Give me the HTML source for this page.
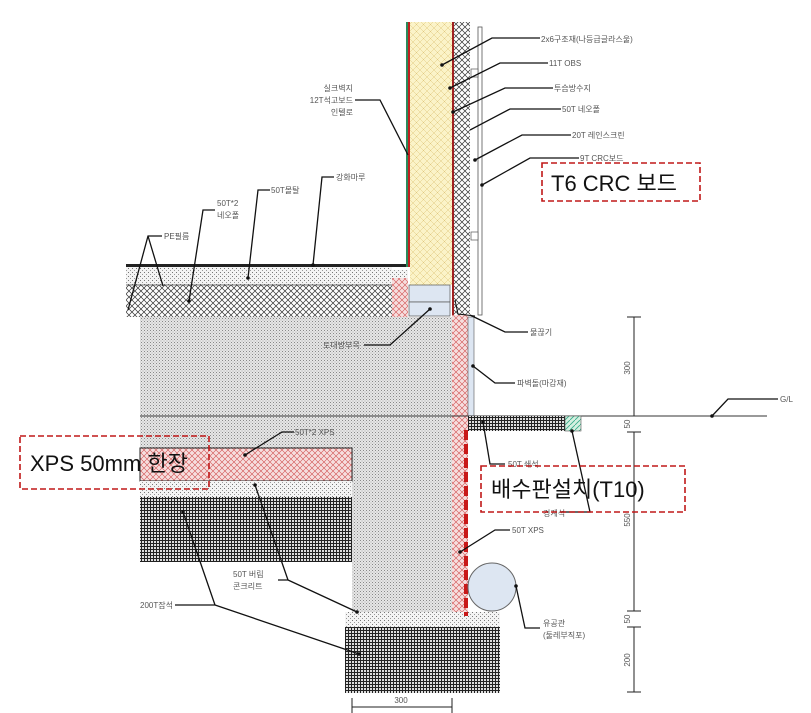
<!DOCTYPE html>
<html><head><meta charset="utf-8"><style>
html,body{margin:0;padding:0;background:#fff;}
svg{display:block;}
.l{font-family:"Liberation Sans","Noto Sans CJK KR",sans-serif;font-size:8px;fill:#555;}
.b{font-family:"Liberation Sans","Noto Sans CJK KR",sans-serif;font-size:22px;fill:#111;}
.ld{stroke:#111;stroke-width:1.3;fill:none;}
</style></head><body>
<svg width="811" height="713" viewBox="0 0 811 713" xmlns="http://www.w3.org/2000/svg">
<defs>
<pattern id="cross" width="6" height="6" patternUnits="userSpaceOnUse">
<rect width="6" height="6" fill="#fff"/><path d="M0 0L6 6M6 0L0 6" stroke="#333" stroke-width="0.7"/></pattern>
<pattern id="pink" width="6" height="6" patternUnits="userSpaceOnUse">
<rect width="6" height="6" fill="#f6dede"/><path d="M0 0L6 6M6 0L0 6" stroke="#d05050" stroke-width="0.6"/></pattern>
<pattern id="yel" width="7" height="7" patternUnits="userSpaceOnUse">
<rect width="7" height="7" fill="#fbf3c8"/><path d="M0 0L7 7M7 0L0 7" stroke="#e0c880" stroke-width="0.5"/></pattern>
<pattern id="conc" width="3" height="3" patternUnits="userSpaceOnUse">
<rect width="3" height="3" fill="#e6e6e6"/><rect width="1" height="1" fill="#888"/><rect x="1.5" y="1.5" width="1" height="1" fill="#aaa"/></pattern>
<pattern id="dot" width="4" height="4" patternUnits="userSpaceOnUse">
<rect width="4" height="4" fill="#f4f4f4"/><rect width="1" height="1" fill="#777"/><rect x="2" y="2" width="1" height="1" fill="#999"/></pattern>
<pattern id="grid" width="3" height="3" patternUnits="userSpaceOnUse">
<rect width="3" height="3" fill="#ddd"/><path d="M0 0.5H3M0.5 0V3" stroke="#222" stroke-width="1"/></pattern>
<pattern id="grn" width="5" height="5" patternUnits="userSpaceOnUse">
<rect width="5" height="5" fill="#d4f0e0"/><path d="M0 5L5 0" stroke="#3a8" stroke-width="0.8"/></pattern>
</defs>

<rect x="140" y="317" width="312" height="131" fill="url(#conc)"/>
<rect x="352" y="448" width="100" height="164" fill="url(#conc)"/>
<rect x="140" y="448" width="212" height="33" fill="url(#pink)" stroke="#222" stroke-width="1"/>
<rect x="140" y="481" width="212" height="16" fill="url(#dot)"/>
<rect x="140" y="497" width="212" height="65" fill="url(#grid)"/>
<rect x="345" y="612" width="155" height="15" fill="url(#dot)"/>
<rect x="345" y="627" width="155" height="66" fill="url(#grid)"/>
<rect x="452" y="303" width="16" height="309" fill="url(#pink)"/>
<rect x="468" y="317" width="6" height="99" fill="#dde6f2" stroke="#555" stroke-width="0.6"/>
<rect x="126" y="264" width="282" height="3" fill="#222"/>
<rect x="126" y="267" width="266" height="18" fill="url(#dot)"/>
<rect x="392" y="270" width="16" height="8" fill="url(#dot)"/>
<rect x="126" y="285" width="266" height="32" fill="url(#cross)"/>
<rect x="392" y="278" width="16" height="39" fill="url(#pink)"/>
<line x1="126" y1="285" x2="392" y2="285" stroke="#444" stroke-width="0.8"/>
<rect x="410" y="22" width="42" height="263" fill="url(#yel)"/>
<rect x="406" y="22" width="2" height="245" fill="#2a8a5a"/>
<rect x="408" y="22" width="2" height="245" fill="#c02020"/>
<rect x="452" y="22" width="2" height="293" fill="#a02020"/>
<rect x="454" y="22" width="16" height="293" fill="url(#cross)"/>
<rect x="478" y="27" width="4" height="288" fill="#fff" stroke="#555" stroke-width="0.8"/>
<rect x="471" y="69" width="7" height="8" fill="#fff" stroke="#555" stroke-width="0.7"/>
<rect x="471" y="232" width="7" height="8" fill="#fff" stroke="#555" stroke-width="0.7"/>
<rect x="409" y="285" width="41" height="17" fill="#dde6f2" stroke="#555" stroke-width="0.7"/>
<rect x="409" y="302" width="41" height="14" fill="#dde6f2" stroke="#555" stroke-width="0.7"/>
<path d="M455 300L458 314L475 316" stroke="#111" stroke-width="1" fill="none"/>
<line x1="140" y1="416" x2="767" y2="416" stroke="#333" stroke-width="1"/>
<rect x="468" y="416" width="97" height="15" fill="url(#grid)"/>
<rect x="565" y="416" width="16" height="15" fill="url(#grn)" stroke="#555" stroke-width="0.6"/>
<line x1="466" y1="430" x2="466" y2="616" stroke="#c81818" stroke-width="4" stroke-dasharray="10,4"/>
<circle cx="492" cy="587" r="24" fill="#dde6f2" stroke="#666" stroke-width="1"/>

<g stroke="#222" stroke-width="1">
<line x1="634" y1="317" x2="634" y2="416"/><line x1="634" y1="432" x2="634" y2="611"/><line x1="634" y1="627" x2="634" y2="692"/>
<line x1="627" y1="317" x2="641" y2="317"/><line x1="627" y1="432" x2="641" y2="432"/><line x1="627" y1="611" x2="641" y2="611"/><line x1="627" y1="627" x2="641" y2="627"/><line x1="627" y1="692" x2="641" y2="692"/>
<line x1="352" y1="707" x2="452" y2="707"/><line x1="352" y1="698" x2="352" y2="713"/><line x1="452" y1="698" x2="452" y2="713"/>
</g>
<g>
<text transform="translate(630,368) rotate(-90)" text-anchor="middle" class="l">300</text>
<text transform="translate(630,424) rotate(-90)" text-anchor="middle" class="l">50</text>
<text transform="translate(630,520) rotate(-90)" text-anchor="middle" class="l">550</text>
<text transform="translate(630,619) rotate(-90)" text-anchor="middle" class="l">50</text>
<text transform="translate(630,660) rotate(-90)" text-anchor="middle" class="l">200</text>
<text x="401" y="703" text-anchor="middle" class="l">300</text>
</g>

<g class="ld">
<path d="M442 65L492 38H540"/><path d="M450 88L500 63H548"/><path d="M453 112L505 88H553"/>
<path d="M470 130L510 109H561"/><path d="M475 160L522 135H571"/><path d="M482 185L530 158H579"/>
<path d="M408 155L380 100H355"/>
<path d="M313 265L322 177H334"/><path d="M248 278L258 190H270"/><path d="M189 301L203 210H215"/>
<path d="M128 310L148 236H162M148 236L163 286"/>
<path d="M430 309L390 345H364"/>
<path d="M470 315L505 332H528"/><path d="M473 366L495 383H515"/>
<path d="M245 455L282 432H294"/>
<path d="M483 422L490 464H505"/><path d="M572 431L590 512H560"/>
<path d="M460 552L495 530H510"/><path d="M516 586L525 628H540"/>
<path d="M255 485L288 580H278M288 580L357 612"/>
<path d="M175 605H215L183 512M215 605L359 654"/>
<path d="M712 416L728 399H778"/>
</g>
<g fill="#111">
<circle cx="442" cy="65" r="1.8"/><circle cx="450" cy="88" r="1.8"/><circle cx="453" cy="112" r="1.8"/><circle cx="475" cy="160" r="1.8"/><circle cx="482" cy="185" r="1.8"/>
<circle cx="313" cy="265" r="1.8"/><circle cx="248" cy="278" r="1.8"/><circle cx="189" cy="301" r="1.8"/><circle cx="430" cy="309" r="1.8"/>
<circle cx="473" cy="366" r="1.8"/><circle cx="245" cy="455" r="1.8"/><circle cx="483" cy="422" r="1.8"/><circle cx="572" cy="431" r="1.8"/>
<circle cx="460" cy="552" r="1.8"/><circle cx="516" cy="586" r="1.8"/><circle cx="255" cy="485" r="1.8"/><circle cx="357" cy="612" r="1.8"/>
<circle cx="183" cy="512" r="1.8"/><circle cx="359" cy="654" r="1.8"/><circle cx="712" cy="416" r="1.8"/>
</g>
<g class="l">
<text x="541" y="42">2x6구조재(나등급글라스울)</text>
<text x="549" y="66">11T OBS</text>
<text x="554" y="91">투습방수지</text>
<text x="562" y="112">50T 네오폴</text>
<text x="572" y="138">20T 레인스크린</text>
<text x="580" y="161">9T CRC보드</text>
<text x="353" y="91" text-anchor="end">실크벽지</text>
<text x="353" y="103" text-anchor="end">12T석고보드</text>
<text x="353" y="115" text-anchor="end">인텔로</text>
<text x="336" y="180">강화마루</text>
<text x="271" y="193">50T몰탈</text>
<text x="217" y="206">50T*2</text>
<text x="217" y="218">네오폴</text>
<text x="164" y="239">PE필름</text>
<text x="323" y="348">토대방부목</text>
<text x="530" y="335">물끊기</text>
<text x="517" y="386">파벽돌(마감재)</text>
<text x="295" y="435">50T*2 XPS</text>
<text x="508" y="467">50T 쇄석</text>
<text x="543" y="516">경계석</text>
<text x="512" y="533">50T XPS</text>
<text x="543" y="626">유공관</text>
<text x="543" y="638">(둘레부직포)</text>
<text x="233" y="577">50T 버림</text>
<text x="233" y="589">콘크리트</text>
<text x="140" y="608">200T잡석</text>
<text x="780" y="402">G/L</text>
</g>

<g fill="none" stroke="#c01818" stroke-width="1.6" stroke-dasharray="6,3">
<rect x="542" y="163" width="158" height="38"/>
<rect x="20" y="436" width="189" height="53"/>
<rect x="481" y="466" width="204" height="46"/>
</g>
<text x="551" y="191" class="b">T6 CRC 보드</text>
<text x="30" y="471" class="b">XPS 50mm 한장</text>
<text x="491" y="497" class="b">배수판설치(T10)</text>
</svg>
</body></html>
